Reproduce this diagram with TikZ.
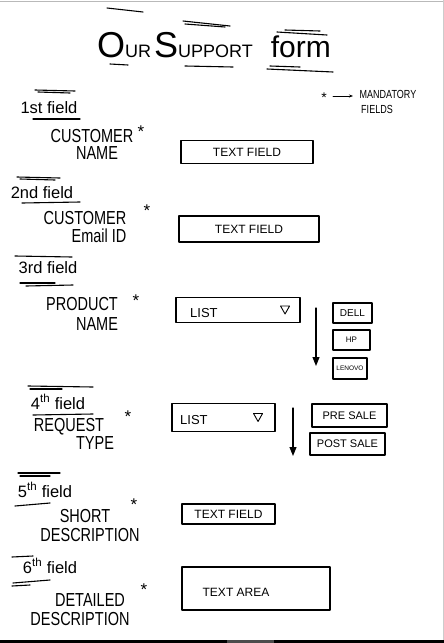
\documentclass[tikz,border=0pt]{standalone}
\usepackage{fontspec}
\usepackage{graphicx}
\setmainfont{Liberation Sans}
\usetikzlibrary{arrows.meta}
\newcommand{\tallx}[1]{\scalebox{1}[1.3]{#1}}
\tikzset{
  ink/.style={line width=1.1pt, line cap=round, line join=round},
  lab/.style={font=\fontsize{14.5}{17}\selectfont, inner sep=0pt},
  fld/.style={font=\fontsize{16.5}{17}\selectfont, inner sep=0pt},
  star/.style={font=\fontsize{17}{17}\selectfont, inner sep=0pt},
  inbox/.style={ink, draw, inner sep=0pt, font=\fontsize{12}{12}\selectfont},
  opt/.style={ink, draw, inner sep=0pt},
  drop/.style={ink, -{Triangle[length=9pt,width=7pt]}},
}
\begin{document}
\begin{tikzpicture}[x=1pt,y=-1pt]
\useasboundingbox (0,0) rectangle (444,643);
\fill[white] (0,0) rectangle (444,643);
% frame bits
\draw[gray!55, line width=1.2pt] (0,1.5) -- (444,1.5);
\draw[gray!40, line width=1pt] (443.5,0) -- (443.5,640);
\fill[black] (0,640) rectangle (444,643);
\fill[gray!60!black] (227,640) rectangle (274,643);

% title
\node[inner sep=0pt] (title) at (214,45) {\fontsize{36}{36}\selectfont O\fontsize{18}{18}\selectfont UR\,\fontsize{36}{36}\selectfont S\fontsize{18}{18}\selectfont UPPORT\quad \fontsize{30}{30}\selectfont form};
\draw[ink] (107,8) -- (143,12);
\draw[ink] (183,21) -- (230,26);
\draw[ink] (185,24) -- (225,27);
\draw[ink] (277,32) -- (327,35);
\draw[ink] (285,30) -- (320,31);
\draw[ink] (110,64) -- (128,65);
\draw[ink] (185,66) -- (233,67);
\draw[ink] (267,69) -- (333,72);
\draw[ink] (270,66) -- (300,67);

% legend
\node[star, font=\fontsize{14}{14}\selectfont] (lstar) at (324,98) {*};
\coordinate (la) at (333,96);
\coordinate (lb) at (353,96);
\draw[ink, line width=0.8pt, -{Stealth[length=4pt]}] (la) -- (lb);
\node[inner sep=0pt, font=\fontsize{9}{9}\selectfont] (mand) at (388,94) {\tallx{MANDATORY}};
\node[inner sep=0pt, font=\fontsize{9}{9}\selectfont] (flds) at (377,109) {\tallx{FIELDS}};

% field 1
\node[fld] (f1) at (49,108) {1st field};
\draw[ink] (35,90) -- (75,91);
\draw[ink] (38,92) -- (70,93);
\draw[ink] (33,119) -- (80,119);
\node[lab] (l1a) at (92,136) {\tallx{CUSTOMER}};
\node[lab] (l1b) at (97,153) {\tallx{NAME}};
\node[star] (s1) at (141,132) {*};
\node[inbox, minimum width=132pt, minimum height=23pt] (b1) at (247,152) {TEXT FIELD};

% field 2
\node[fld] (f2) at (42,193) {2nd field};
\draw[ink] (17,177) -- (60,178);
\draw[ink] (20,179) -- (55,180);
\draw[ink] (22,203) -- (80,202);
\node[lab] (l2a) at (85,218) {\tallx{CUSTOMER}};
\node[lab] (l2b) at (99,236) {\tallx{Email ID}};
\node[star] (s2) at (147,211) {*};
\node[inbox, minimum width=140pt, minimum height=26pt] (b2) at (249,229) {TEXT FIELD};

% field 3
\node[fld] (f3) at (48,268) {3rd field};
\draw[ink] (15,256) -- (72,257);
\draw[ink] (20,283) -- (55,283);
\draw[ink] (26,286) -- (73,285);
\node[lab] (l3a) at (82,304) {\tallx{PRODUCT}};
\node[lab] (l3b) at (97,324) {\tallx{NAME}};
\node[star] (s3) at (136,301) {*};
\node[opt, minimum width=124pt, minimum height=25pt] (b3) at (238,310) {};
\node[inner sep=0pt, font=\fontsize{13}{13}\selectfont, anchor=west] (t3) at (190,313) {LIST};
\draw[ink, line width=0.9pt] ([xshift=-20pt,yshift=4pt]b3.east) -- ++(9pt,0pt) -- ++(-4.5pt,-8pt) -- cycle;
\coordinate (a3s) at (316,308);
\coordinate (a3e) at (316,366);
\draw[drop] (a3s) -- (a3e);
\node[opt, minimum width=39pt, minimum height=20pt, font=\fontsize{10}{10}\selectfont] (o31) at (352.5,313) {DELL};
\node[opt, minimum width=37pt, minimum height=20pt, font=\fontsize{8}{8}\selectfont] (o32) at (351.5,340) {HP};
\node[opt, minimum width=34pt, minimum height=21pt, font=\fontsize{6.5}{6.5}\selectfont] (o33) at (350,368.5) {LENOVO};

% field 4
\node[fld] (f4) at (58,402) {4\textsuperscript{th} field};
\draw[ink] (28,386) -- (93,387);
\draw[ink] (30,389) -- (62,389);
\draw[ink] (33,415) -- (93,414);
\node[lab] (l4a) at (69,427) {\tallx{REQUEST}};
\node[lab] (l4b) at (95,443) {\tallx{TYPE}};
\node[star] (s4) at (128,417) {*};
\node[opt, minimum width=103pt, minimum height=28pt] (b4) at (223.5,417.5) {};
\node[inner sep=0pt, font=\fontsize{13}{13}\selectfont, anchor=west] (t4) at (180,420) {LIST};
\draw[ink, line width=0.9pt] ([xshift=-22pt,yshift=4pt]b4.east) -- ++(9pt,0pt) -- ++(-4.5pt,-8pt) -- cycle;
\coordinate (a4s) at (293,408);
\coordinate (a4e) at (293,456);
\draw[drop] (a4s) -- (a4e);
\node[opt, minimum width=75pt, minimum height=23pt, font=\fontsize{11}{11}\selectfont] (o41) at (349.5,415.5) {PRE SALE};
\node[opt, minimum width=75pt, minimum height=22pt, font=\fontsize{11}{11}\selectfont] (o42) at (347.5,444) {POST SALE};

% field 5
\node[fld] (f5) at (45,490) {5\textsuperscript{th} field};
\draw[ink] (18,473) -- (60,473);
\draw[ink] (20,476) -- (50,476);
\draw[ink] (15,506) -- (50,503);
\node[lab] (l5a) at (85,516) {\tallx{SHORT}};
\node[lab] (l5b) at (90,535) {\tallx{DESCRIPTION}};
\node[star] (s5) at (134,505) {*};
\node[inbox, minimum width=93pt, minimum height=20pt] (b5) at (228.5,514) {TEXT FIELD};

% field 6
\node[fld] (f6) at (50,566) {6\textsuperscript{th} field};
\draw[ink] (12,557) -- (33,556);
\draw[ink] (13,583) -- (50,580);
\draw[ink] (12,586) -- (30,585);
\node[lab] (l6a) at (90,600) {\tallx{DETAILED}};
\node[lab] (l6b) at (80,619) {\tallx{DESCRIPTION}};
\node[star] (s6) at (144,590) {*};
\node[opt, minimum width=148pt, minimum height=43pt] (b6) at (256,588.5) {};
\node[inner sep=0pt, font=\fontsize{12}{12}\selectfont] (t6) at (236,592) {TEXT AREA};
\end{tikzpicture}
\end{document}
